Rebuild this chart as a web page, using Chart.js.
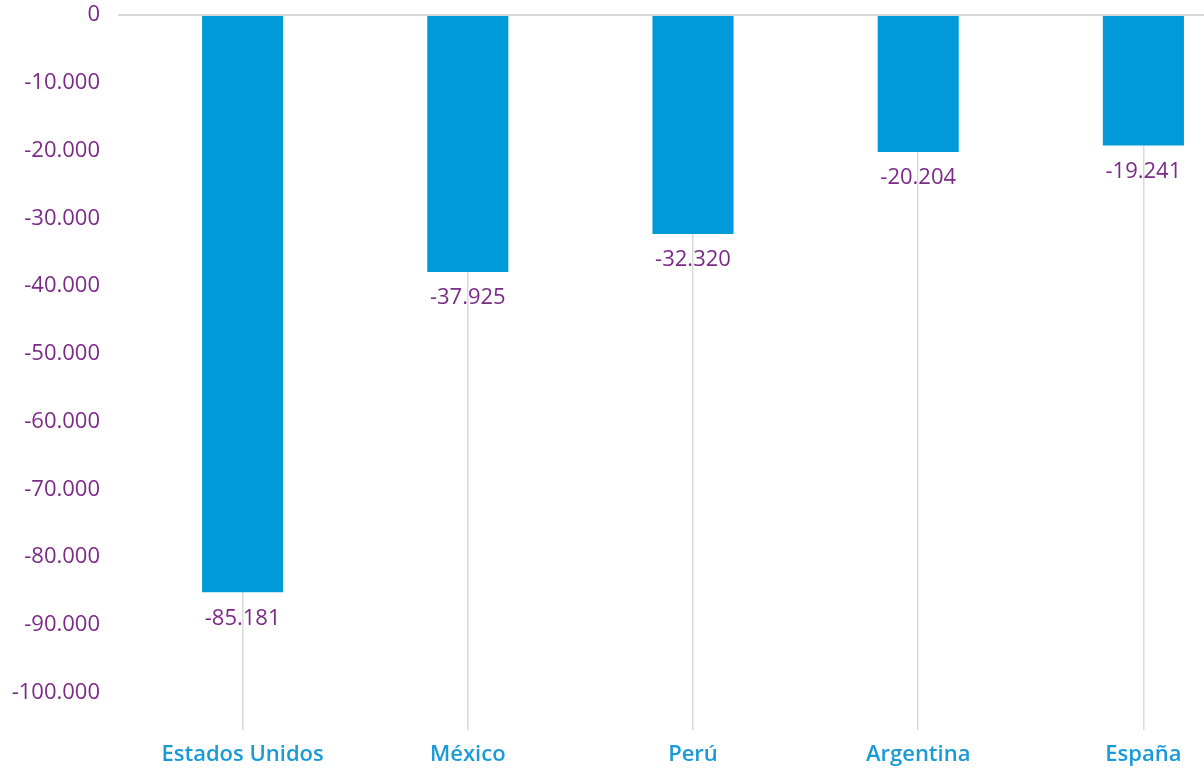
<!DOCTYPE html>
<html>
<head>
<meta charset="utf-8">
<script src="https://cdn.jsdelivr.net/npm/chart.js@4/dist/chart.umd.min.js"></script>
<style>
    html, body { margin: 0; padding: 0; background: #fff; overflow: hidden; }
    #wrap { position: relative; width: 1260px; height: 769px; }
</style>
</head>
<body>
<div id="wrap"><canvas id="chart"></canvas></div>
<script>
// países y saldo
const paises = ['Estados Unidos', 'México', 'Perú', 'Argentina', 'España'];
const saldos = [-85181, -37925, -32320, -20204, -19241];
const ejeMin = -105500;
const ejeMax = 0;
const ejeTicks = [0, -10000, -20000, -30000, -40000, -50000, -60000, -70000, -80000, -90000, -100000];

const MORADO = '#7b2a88';
const AZUL = '#0099d9';
const GRIS = '#d9d9d9';

// separador de miles con punto
function formatoMiles(v) {
    const s = Math.abs(Math.round(v)).toString().replace(/\B(?=(\d{3})+(?!\d))/g, '.');
    return (v < 0 ? '-' : '') + s;
}

// etiqueta de valor bajo cada barra
const etiquetasValor = {
    id: 'etiquetasValor',
    afterDatasetsDraw(chart) {
        const { ctx } = chart;
        const meta = chart.getDatasetMeta(0);
        ctx.save();
        ctx.font = '22px "Open Sans", sans-serif';
        ctx.fillStyle = MORADO;
        ctx.textAlign = 'center';
        ctx.textBaseline = 'middle';
        meta.data.forEach((bar, i) => {
            ctx.fillText(formatoMiles(saldos[i]), bar.x, bar.y + 26);
        });
        ctx.restore();
    }
};

new Chart(document.getElementById('chart'), {
    type: 'bar',
    data: {
        labels: paises,
        datasets: [{
            data: saldos,
            backgroundColor: AZUL,
            borderWidth: 0,
            barPercentage: 0.36,
            categoryPercentage: 1,
        }],
    },
    options: {
        responsive: true,
        maintainAspectRatio: false,
        animation: false,
        layout: { padding: { top: 15, right: 4, bottom: 0, left: 0 } },
        plugins: {
            legend: { display: false },
            tooltip: { enabled: false },
        },
        scales: {
            x: {
                offset: true,
                border: { display: false },
                grid: {
                    offset: false,
                    drawTicks: false,
                    color: GRIS,
                    lineWidth: 1.5,
                },
                ticks: {
                    padding: 12,
                    color: '#1a9ad6',
                    font: { family: '"Open Sans", sans-serif', size: 22, weight: '600' },
                    maxRotation: 0,
                },
                afterFit(scale) { scale.height = 39; },
            },
            y: {
                min: ejeMin,
                max: ejeMax,
                border: { display: false },
                grid: {
                    color: ctx => (ctx.tick && ctx.tick.value === 0 ? GRIS : 'transparent'),
                    lineWidth: 2,
                    tickLength: 12,
                },
                ticks: {
                    padding: 18,
                    color: MORADO,
                    font: { family: '"Open Sans", sans-serif', size: 22 },
                    callback: v => formatoMiles(v),
                },
                afterBuildTicks(scale) {
                    scale.ticks = ejeTicks.map(v => ({ value: v }));
                },
                afterFit(scale) {
                    scale.width = 130;
                    scale.paddingTop = 0;
                    scale.paddingBottom = 0;
                },
            },
        },
    },
    plugins: [etiquetasValor],
});
</script>
</body>
</html>
